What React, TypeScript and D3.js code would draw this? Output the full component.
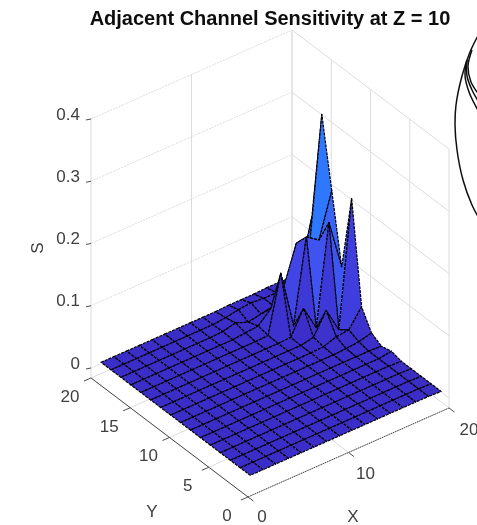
import React from "react";
import * as d3 from "d3";

const width = 477;
const height = 525;

// S, one row per Y from 20 down to 1, one column per X
const xValues = [1, 2.27, 3.53, 4.8, 6.07, 7.33, 8.6, 9.87, 11.13, 12.4, 13.67, 14.93, 16.2, 17.47, 18.73, 20];
const yValues = [20, 18.73, 17.47, 16.2, 14.93, 13.67, 12.4, 11.13, 9.87, 8.6, 7.33, 6.07, 4.8, 3.53, 2.27, 1];
const sRows = [
  [.002, .002, .002, .002, .002, .002, .002, .002, .002, .002, .003, .003, .003, .004, .004, .003],
  [.002, .002, .002, .002, .002, .002, .002, .002, .002, .004, .008, .010, .008, .008, .012, .040],
  [.002, .002, .002, .002, .002, .002, .002, .002, .003, .008, .000, .004, .008, .037, .030, .124],
  [.002, .002, .002, .002, .002, .002, .002, .002, .002, .004, .006, .025, .050, .112, .090, .301],
  [.002, .002, .002, .002, .002, .002, .002, .002, .002, .002, .003, .094, .000, .134, .120, .190],
  [.002, .002, .002, .002, .002, .002, .002, .002, .002, .002, .002, .003, .040, .000, .160, .080],
  [.002, .002, .002, .002, .002, .002, .002, .002, .002, .002, .002, .002, .006, .040, .000, .202],
  [.002, .002, .002, .002, .002, .002, .002, .002, .002, .002, .002, .002, .003, .010, .012, .040],
  [.002, .002, .002, .002, .002, .002, .002, .002, .002, .002, .002, .002, .002, .003, .005, .010],
  [.002, .002, .002, .002, .002, .002, .002, .002, .002, .002, .002, .002, .002, .002, .002, .001],
  [.002, .002, .002, .002, .002, .002, .002, .002, .002, .002, .002, .002, .002, .002, .002, .005],
  [.002, .002, .002, .002, .002, .002, .002, .002, .002, .002, .002, .002, .002, .002, .002, .001],
  [.002, .002, .002, .002, .002, .002, .002, .002, .002, .002, .002, .002, .002, .002, .002, .001],
  [.002, .002, .002, .002, .002, .002, .002, .002, .002, .002, .002, .002, .002, .002, .002, .001],
  [.002, .002, .002, .002, .002, .002, .002, .002, .002, .002, .002, .002, .002, .002, .002, .001],
  [.002, .002, .002, .002, .002, .002, .002, .002, .002, .002, .002, .002, .002, .002, .002, .001],
];

const xTicks = [0, 10, 20];
const yTicks = [0, 5, 10, 15, 20];
const zTicks = [0, 0.1, 0.2, 0.3, 0.4];
const zFloor = -0.016;

// pieces of the neighbouring subplot's curves that stick into the right edge
const sideCurves = [
  [[480, 32], [470, 52], [462, 76], [456, 105], [455, 125], [457, 150], [463, 180], [472, 205], [480, 220]],
  [[467, 60], [465, 75], [469, 92], [480, 114]],
  [[467, 60], [467, 76], [472, 90], [480, 104]],
  [[472, 50], [468, 66], [471, 82], [480, 96]],
];

// oblique projection: each data axis adds its own screen offset
const xToPx = d3.scaleLinear().domain([0, 20]).range([0, 201]);
const xToPy = d3.scaleLinear().domain([0, 20]).range([0, -89]);
const yToPx = d3.scaleLinear().domain([0, 20]).range([0, -157]);
const yToPy = d3.scaleLinear().domain([0, 20]).range([0, -119]);
const zToPy = d3.scaleLinear().domain([0, 0.4]).range([0, -249]);
const origin = [248, 487];

const project = (x: number, y: number, z: number): [number, number] => [
  origin[0] + xToPx(x) + yToPx(y),
  origin[1] + xToPy(x) + yToPy(y) + zToPy(z),
];

const color = d3
  .scaleLinear<string>()
  .domain([0, 0.002, 0.05, 0.1, 0.17])
  .range(["#3a2bb0", "#3b2dc8", "#3e38d8", "#4050f0", "#2f78ff"])
  .clamp(true);

const lineOf = (pts: [number, number][]) => d3.line()(pts) as string;
const curveOf = d3.line().curve(d3.curveCatmullRom);
const xLabelShift = d3.scaleLinear().domain([0, 20]).range([14, 20]);

const gridStroke = "#dcdcdc";
const axisStroke = "#3a3a3a";
const textFill = "#404040";

export default function App() {
  // back to front: rows come from Y = 20, columns from X = 20
  const facets: { d: string; fill: string }[] = [];
  for (let r = 0; r < yValues.length - 1; r++) {
    for (let c = xValues.length - 2; c >= 0; c--) {
      const corners: [number, number, number][] = [
        [xValues[c], yValues[r], sRows[r][c]],
        [xValues[c + 1], yValues[r], sRows[r][c + 1]],
        [xValues[c + 1], yValues[r + 1], sRows[r + 1][c + 1]],
        [xValues[c], yValues[r + 1], sRows[r + 1][c]],
      ];
      facets.push({
        d: lineOf(corners.map((p) => project(p[0], p[1], p[2]))) + "Z",
        fill: color(d3.mean(corners, (p) => p[2]) as number),
      });
    }
  }

  const tickFont = { fontFamily: "Liberation Sans", fontSize: 17, fill: textFill };

  return (
    <svg
      width={width}
      height={height}
      style={{ position: "absolute", left: 0, top: 0, background: "#fff" }}
    >
      <defs>
        <filter id="soft" x="0" y="0" width="100%" height="100%">
          <feGaussianBlur stdDeviation="0.4" />
        </filter>
      </defs>
      <g filter="url(#soft)">
        {/* walls and floor */}
        <g fill="none" stroke={gridStroke} strokeWidth={1}>
          {xTicks.map((t) => (
            <path key={`xw${t}`} d={lineOf([project(t, 20, zFloor), project(t, 20, 0.4)])} />
          ))}
          {yTicks.map((t) => (
            <path key={`yw${t}`} d={lineOf([project(20, t, zFloor), project(20, t, 0.4)])} />
          ))}
          {zTicks.map((t) => (
            <path
              key={`zl${t}`}
              d={lineOf([project(0, 20, t), project(20, 20, t)])}
              strokeDasharray="2 1"
            />
          ))}
          {zTicks.map((t) => (
            <path key={`zr${t}`} d={lineOf([project(20, 20, t), project(20, 0, t)])} />
          ))}
          {xTicks.map((t) => (
            <path key={`xf${t}`} d={lineOf([project(t, 0, zFloor), project(t, 20, zFloor)])} />
          ))}
          {yTicks.map((t) => (
            <path key={`yf${t}`} d={lineOf([project(0, t, zFloor), project(20, t, zFloor)])} />
          ))}
        </g>

        {/* axes */}
        <g fill="none" stroke={axisStroke} strokeWidth={0.9}>
          <path
            d={lineOf([project(0, 0, zFloor), project(20, 0, zFloor)])}
            strokeDasharray="1.6 0.8"
          />
          <path d={lineOf([project(0, 0, zFloor), project(0, 20, zFloor)])} />
          {xTicks.map((t) => (
            <path key={`xt${t}`} d={lineOf([project(t, 0, zFloor), project(t, -0.7, zFloor)])} />
          ))}
          {yTicks.map((t) => (
            <path key={`yt${t}`} d={lineOf([project(0, t, zFloor), project(-0.7, t, zFloor)])} />
          ))}
          {zTicks.map((t) => (
            <path key={`zt${t}`} d={lineOf([project(0, 20, t), project(-0.5, 20, t + 0.002)])} />
          ))}
        </g>

        {/* surface */}
        <g stroke="#000" strokeWidth={1.2} strokeDasharray="3 1" strokeLinejoin="round">
          {facets.map((f, i) => (
            <path key={i} d={f.d} fill={f.fill} />
          ))}
        </g>

        {/* curves of the next subplot */}
        <g fill="none" stroke="#111" strokeWidth={1.5}>
          {sideCurves.map((c, i) => (
            <path key={i} d={curveOf(c as [number, number][]) as string} />
          ))}
        </g>

        {/* labels */}
        <g {...tickFont} textAnchor="end">
          {zTicks.map((t) => (
            <text key={t} x={80} y={project(0, 20, t)[1] + 0.5}>
              {t}
            </text>
          ))}
        </g>
        <g {...tickFont} textAnchor="middle">
          {yTicks.map((t) => {
            const p = project(0, t, zFloor);
            return (
              <text key={t} x={p[0] - 21} y={Math.min(p[1] + 24, 521.5)}>
                {t}
              </text>
            );
          })}
          {xTicks.map((t) => {
            const p = project(t, 0, zFloor);
            return (
              <text key={t} x={p[0] + xLabelShift(t)} y={Math.min(p[1] + 27, 521.5)}>
                {t}
              </text>
            );
          })}
        </g>
        <text {...tickFont} x={353} y={521.5} textAnchor="middle">
          X
        </text>
        <text {...tickFont} x={152} y={517} textAnchor="middle">
          Y
        </text>
        <text {...tickFont} textAnchor="middle" transform="translate(43,248) rotate(-90)">
          S
        </text>
        <text
          x={270}
          y={25}
          textAnchor="middle"
          fontFamily="Liberation Sans"
          fontWeight="bold"
          fontSize={20}
          fill="#111"
        >
          Adjacent Channel Sensitivity at Z = 10
        </text>
      </g>
    </svg>
  );
}
